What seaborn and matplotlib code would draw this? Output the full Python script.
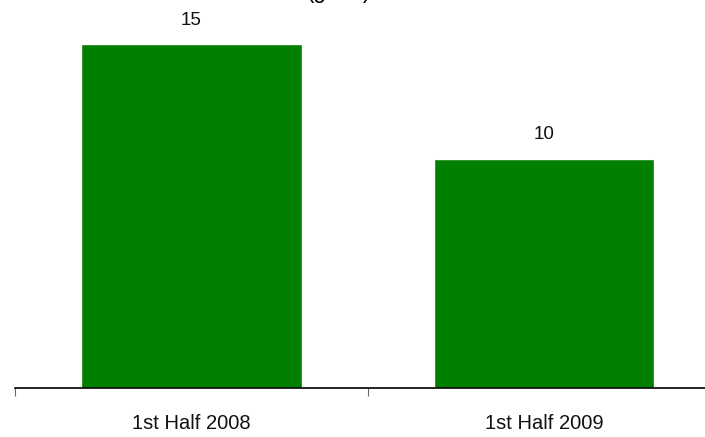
import matplotlib
matplotlib.use("Agg")
import matplotlib.pyplot as plt
import seaborn as sns
import pandas as pd

periods = ["1st Half 2008", "1st Half 2009"]
values = [15, 10]
bar_color = "#007f00"

sns.set_theme(style="white")
plt.rcParams["font.family"] = ["Liberation Sans", "DejaVu Sans"]

df = pd.DataFrame({"period": periods, "value": values})

fig = plt.figure(figsize=(7.05, 4.37), dpi=100)
ax = fig.add_axes([15 / 705, 49 / 437, 705.5 / 705, 388 / 437])

sns.barplot(data=df, x="period", y="value", color=bar_color, saturation=1,
            width=0.625, ax=ax)

ax.set_xlim(-0.5, 1.5)
ax.set_ylim(0, 15 * 388 / 344)

for i, v in enumerate(values):
    ax.annotate(f"{v}", xy=(i, v), xytext=(0, 11), textcoords="offset points",
                ha="center", va="bottom", fontsize=13.5, color="#111111")

# category labels on major ticks, boundary tick marks as minor ticks
ax.set_xticks([0, 1])
ax.set_xticklabels(periods, fontsize=14.5, color="#111111")
ax.tick_params(axis="x", which="major", length=0, pad=19)
ax.set_xticks([-0.5, 0.5], minor=True)
ax.tick_params(axis="x", which="minor", bottom=True, length=6, width=0.8, color="#666666")

ax.set_yticks([])
ax.set_xlabel("")
ax.set_ylabel("")
for side in ["top", "right", "left"]:
    ax.spines[side].set_visible(False)
ax.spines["bottom"].set_color("black")
ax.spines["bottom"].set_linewidth(1.2)

# unit line of the title, sitting just above the top edge
fig.text(0.48, 1.004, "(g/ton)", ha="center", va="baseline", fontsize=16, color="black")

fig.savefig("out.png", dpi=100)
